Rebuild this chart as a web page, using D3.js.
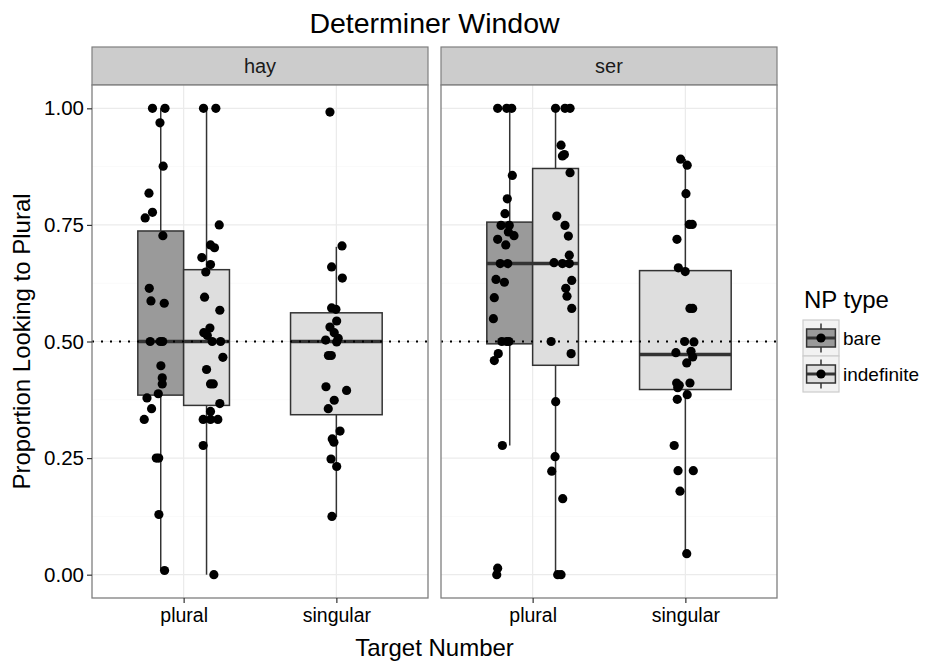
<!DOCTYPE html>
<html>
<head>
<meta charset="utf-8">
<script src="https://cdn.jsdelivr.net/npm/d3@7"></script>
<style>
  body { margin: 0; background: #fff; }
  svg { display: block; font-family: "Liberation Sans", Arial, Helvetica, sans-serif; }
</style>
</head>
<body>
<svg id="chart" width="928" height="662"></svg>
<script>
// facets, x categories, fill groups
const panels = ['hay', 'ser'];
const targets = ['plural', 'singular'];
const npTypes = ['bare', 'indefinite'];
const yTicks = [0, 0.25, 0.5, 0.75, 1];
const yMinor = [0.125, 0.375, 0.625, 0.875];

// box stats: [lower whisker, q1, median, q3, upper whisker]
const boxHayPluralBare = [0.01, 0.385, 0.5, 0.737, 1.0];
const boxHayPluralIndef = [0.0, 0.363, 0.5, 0.654, 1.0];
const boxHaySingularIndef = [0.124, 0.343, 0.5, 0.5615, 0.703];
const boxSerPluralBare = [0.277, 0.495, 0.667, 0.756, 1.0];
const boxSerPluralIndef = [0.0, 0.449, 0.667, 0.871, 1.0];
const boxSerSingularIndef = [0.045, 0.397, 0.472, 0.652, 0.891];

// points: [proportion, horizontal jitter in category units]
const hayPluralBare = [
  [1.0, -0.054], [1.0, 0.028], [0.969, -0.005], [0.876, 0.016], [0.818, -0.077],
  [0.777, -0.054], [0.765, -0.102], [0.727, 0.014], [0.614, -0.075], [0.587, -0.064],
  [0.582, 0.023], [0.5, -0.069], [0.5, -0.003], [0.5, 0.013], [0.448, 0.001],
  [0.422, 0.010], [0.409, 0.010], [0.388, -0.016], [0.379, -0.090], [0.356, -0.060],
  [0.333, -0.108], [0.25, -0.029], [0.25, -0.013], [0.129, -0.012], [0.009, 0.025]
];
const hayPluralIndef = [
  [1.0, -0.020], [1.0, 0.061], [0.75, 0.083], [0.707, 0.026], [0.701, 0.052],
  [0.680, -0.031], [0.665, 0.026], [0.649, -0.005], [0.595, -0.013], [0.567, 0.087],
  [0.529, 0.022], [0.519, -0.018], [0.513, 0.005], [0.5, 0.037], [0.5, 0.092],
  [0.466, 0.107], [0.44, 0.0], [0.409, 0.026], [0.409, 0.044], [0.367, 0.087],
  [0.35, 0.026], [0.333, -0.022], [0.333, 0.026], [0.333, 0.074], [0.277, -0.022],
  [0.0, 0.048]
];
const haySingularIndef = [
  [0.992, -0.042], [0.705, 0.037], [0.66, -0.031], [0.636, 0.039], [0.572, -0.031],
  [0.569, -0.003], [0.544, 0.002], [0.531, -0.042], [0.519, -0.014], [0.503, -0.070],
  [0.507, 0.012], [0.499, 0.002], [0.47, -0.052], [0.47, -0.033], [0.403, -0.068],
  [0.395, 0.067], [0.374, -0.014], [0.356, -0.053], [0.308, 0.024], [0.291, -0.027],
  [0.284, -0.016], [0.248, -0.035], [0.232, 0.002], [0.125, -0.029]
];
const serPluralBare = [
  [1.0, -0.079], [1.0, -0.020], [1.0, 0.013], [0.856, 0.017], [0.806, -0.016],
  [0.774, -0.031], [0.749, -0.057], [0.749, -0.003], [0.735, -0.009], [0.727, 0.028],
  [0.719, -0.079], [0.707, -0.026], [0.667, -0.062], [0.667, -0.013], [0.633, -0.090],
  [0.627, -0.035], [0.594, -0.101], [0.549, -0.107], [0.5, -0.052], [0.5, -0.020],
  [0.5, -0.005], [0.474, -0.075], [0.459, -0.101], [0.277, -0.048], [0.014, -0.079],
  [0.0, -0.085]
];
const serPluralIndef = [
  [1.0, 0.0], [1.0, 0.062], [1.0, 0.095], [0.921, 0.036], [0.898, 0.045],
  [0.901, 0.058], [0.862, 0.095], [0.769, 0.008], [0.749, 0.062], [0.726, 0.084],
  [0.685, 0.090], [0.669, -0.010], [0.667, 0.045], [0.667, 0.090], [0.631, 0.106],
  [0.614, 0.067], [0.597, 0.075], [0.571, 0.106], [0.5, -0.029], [0.474, 0.102],
  [0.371, 0.001], [0.253, -0.003], [0.222, -0.025], [0.163, 0.047], [0.0, 0.014],
  [0.0, 0.036]
];
const serSingularIndef = [
  [0.891, -0.031], [0.878, 0.012], [0.817, 0.004], [0.751, 0.026], [0.751, 0.045],
  [0.719, -0.055], [0.658, -0.046], [0.65, -0.001], [0.571, 0.030], [0.571, 0.048],
  [0.5, -0.005], [0.499, 0.056], [0.476, -0.062], [0.479, 0.037], [0.467, 0.048],
  [0.454, 0.009], [0.411, -0.057], [0.406, -0.040], [0.411, 0.030], [0.401, -0.050],
  [0.386, 0.012], [0.376, -0.053], [0.277, -0.073], [0.223, -0.048], [0.223, 0.052],
  [0.179, -0.035], [0.045, 0.009]
];

const groups = [
  { panel: 'hay', target: 'plural', np: 'bare', box: boxHayPluralBare, pts: hayPluralBare },
  { panel: 'hay', target: 'plural', np: 'indefinite', box: boxHayPluralIndef, pts: hayPluralIndef },
  { panel: 'hay', target: 'singular', np: 'indefinite', box: boxHaySingularIndef, pts: haySingularIndef },
  { panel: 'ser', target: 'plural', np: 'bare', box: boxSerPluralBare, pts: serPluralBare },
  { panel: 'ser', target: 'plural', np: 'indefinite', box: boxSerPluralIndef, pts: serPluralIndef },
  { panel: 'ser', target: 'singular', np: 'indefinite', box: boxSerSingularIndef, pts: serSingularIndef }
];

const FILL = { bare: '#9a9a9a', indefinite: '#dedede' };
const INK = '#333333';
const FONT = '"Liberation Sans", Arial, sans-serif';

const padLeft = 92, padTop = 85, panelW = 336, panelH = 513, gap = 13, stripH = 38;

const svg = d3.select('#chart');

const y = d3.scaleLinear().domain([-0.05, 1.05]).range([padTop + panelH, padTop]);
const x = d3.scalePoint().domain(targets).range([0, panelW]).padding(0.6);
const step = x.step();

// dodge: two boxes share 0.6 units, a lone box takes all of it
function dodge(g) {
  const n = groups.filter(o => o.panel === g.panel && o.target === g.target).length;
  if (n === 1) return { off: 0, half: 0.3 };
  return { off: g.np === 'bare' ? -0.15 : 0.15, half: 0.15 };
}

// title
svg.append('text')
  .attr('x', padLeft + panelW + gap / 2)
  .attr('y', 33)
  .attr('text-anchor', 'middle')
  .attr('font-size', 28.5)
  .attr('fill', '#000')
  .text('Determiner Window');

panels.forEach((p, i) => {
  const x0 = padLeft + i * (panelW + gap);
  const g = svg.append('g').attr('transform', `translate(${x0},0)`);

  // strip
  g.append('rect')
    .attr('x', 0).attr('y', padTop - stripH)
    .attr('width', panelW).attr('height', stripH)
    .attr('fill', '#cccccc').attr('stroke', '#7f7f7f').attr('stroke-width', 1.2);
  g.append('text')
    .attr('x', panelW / 2).attr('y', padTop - stripH / 2)
    .attr('dy', '0.35em')
    .attr('text-anchor', 'middle')
    .attr('font-size', 20)
    .attr('fill', '#1a1a1a')
    .text(p);

  // panel background + grid
  g.append('rect')
    .attr('x', 0).attr('y', padTop).attr('width', panelW).attr('height', panelH)
    .attr('fill', '#fff');
  g.append('g').selectAll('line').data(yMinor).join('line')
    .attr('x1', 0).attr('x2', panelW)
    .attr('y1', d => y(d)).attr('y2', d => y(d))
    .attr('stroke', '#fafafa').attr('stroke-width', 1);
  g.append('g').selectAll('line').data(yTicks).join('line')
    .attr('x1', 0).attr('x2', panelW)
    .attr('y1', d => y(d)).attr('y2', d => y(d))
    .attr('stroke', '#ebebeb').attr('stroke-width', 1.2);
  g.append('g').selectAll('line').data(targets).join('line')
    .attr('x1', d => x(d)).attr('x2', d => x(d))
    .attr('y1', padTop).attr('y2', padTop + panelH)
    .attr('stroke', '#ebebeb').attr('stroke-width', 1.2);

  const pg = groups.filter(o => o.panel === p);

  // boxplots
  pg.forEach(o => {
    const dd = dodge(o);
    const cx = x(o.target) + dd.off * step;
    const hw = dd.half * step;
    const [lo, q1, med, q3, hi] = o.box;
    const b = g.append('g');
    b.append('line')
      .attr('x1', cx).attr('x2', cx).attr('y1', y(q3)).attr('y2', y(hi))
      .attr('stroke', INK).attr('stroke-width', 1.5);
    b.append('line')
      .attr('x1', cx).attr('x2', cx).attr('y1', y(q1)).attr('y2', y(lo))
      .attr('stroke', INK).attr('stroke-width', 1.5);
    b.append('rect')
      .attr('x', cx - hw).attr('width', hw * 2)
      .attr('y', y(q3)).attr('height', y(q1) - y(q3))
      .attr('fill', FILL[o.np]).attr('stroke', INK).attr('stroke-width', 1.5);
    b.append('line')
      .attr('x1', cx - hw).attr('x2', cx + hw).attr('y1', y(med)).attr('y2', y(med))
      .attr('stroke', INK).attr('stroke-width', 3.5);
  });

  // chance line
  g.append('line')
    .attr('x1', 0).attr('x2', panelW).attr('y1', y(0.5)).attr('y2', y(0.5))
    .attr('stroke', '#000').attr('stroke-width', 2)
    .attr('stroke-dasharray', '2,7');

  // jittered points
  pg.forEach(o => {
    const dd = dodge(o);
    g.append('g').selectAll('circle').data(o.pts).join('circle')
      .attr('cx', d => x(o.target) + (dd.off + d[1]) * step)
      .attr('cy', d => y(d[0]))
      .attr('r', 4.6)
      .attr('fill', '#000');
  });

  // border
  g.append('rect')
    .attr('x', 0).attr('y', padTop).attr('width', panelW).attr('height', panelH)
    .attr('fill', 'none').attr('stroke', '#7f7f7f').attr('stroke-width', 1.3);

  // x axis
  const xa = g.append('g')
    .attr('transform', `translate(0,${padTop + panelH})`)
    .call(d3.axisBottom(x).tickSize(5).tickPadding(5));
  xa.select('.domain').remove();
  xa.selectAll('line').attr('stroke', INK).attr('stroke-width', 1.2);
  xa.selectAll('text').attr('font-size', 19.5).attr('fill', '#000').attr('font-family', FONT);

  if (i === 0) {
    const ya = g.append('g')
      .call(d3.axisLeft(y).tickValues(yTicks).tickFormat(d3.format('.2f')).tickSize(5).tickPadding(3));
    ya.select('.domain').remove();
    ya.selectAll('line').attr('stroke', INK).attr('stroke-width', 1.2);
    ya.selectAll('text').attr('font-size', 20.5).attr('fill', '#000').attr('font-family', FONT);
  }
});

// axis titles
svg.append('text')
  .attr('x', padLeft + panelW + gap / 2).attr('y', 656)
  .attr('text-anchor', 'middle')
  .attr('font-size', 24).attr('fill', '#000')
  .text('Target Number');
svg.append('text')
  .attr('transform', `translate(30,${padTop + panelH / 2}) rotate(-90)`)
  .attr('text-anchor', 'middle')
  .attr('font-size', 24).attr('fill', '#000')
  .text('Proportion Looking to Plural');

// legend
const lg = svg.append('g').attr('transform', 'translate(803,0)');
lg.append('text')
  .attr('x', 1).attr('y', 308)
  .attr('font-size', 24).attr('fill', '#000')
  .text('NP type');
const key = 36;
npTypes.forEach((t, i) => {
  const k = lg.append('g').attr('transform', `translate(0,${320 + i * key})`);
  k.append('rect').attr('width', key).attr('height', key)
    .attr('fill', '#f2f2f2').attr('stroke', '#cccccc').attr('stroke-width', 1.2);
  k.append('line').attr('x1', key / 2).attr('x2', key / 2).attr('y1', key * 0.1).attr('y2', key * 0.9)
    .attr('stroke', INK).attr('stroke-width', 1.5);
  k.append('rect').attr('x', key * 0.1).attr('y', key * 0.25)
    .attr('width', key * 0.8).attr('height', key * 0.5)
    .attr('fill', FILL[t]).attr('stroke', INK).attr('stroke-width', 1.5);
  k.append('line').attr('x1', key * 0.1).attr('x2', key * 0.9).attr('y1', key / 2).attr('y2', key / 2)
    .attr('stroke', INK).attr('stroke-width', 3);
  k.append('circle').attr('cx', key / 2).attr('cy', key / 2).attr('r', 4.6).attr('fill', '#000');
  k.append('text')
    .attr('x', key + 4).attr('y', key / 2).attr('dy', '0.35em')
    .attr('font-size', 19).attr('fill', '#000')
    .text(t);
});
</script>
</body>
</html>
